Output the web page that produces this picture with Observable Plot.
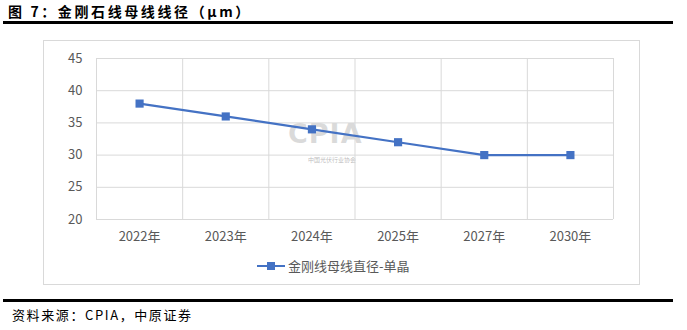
<!DOCTYPE html>
<html><head><meta charset="utf-8">
<script src="https://cdn.jsdelivr.net/npm/d3@7"></script>
<script src="https://cdn.jsdelivr.net/npm/@observablehq/plot@0.6"></script>
<style>
body{margin:0;background:#fff;width:687px;height:330px;position:relative;overflow:hidden;font-family:"Noto Sans CJK SC","Noto Sans",sans-serif;}
#title{position:absolute;left:8px;top:1px;font-size:14px;font-weight:bold;color:#000;letter-spacing:2.6px;}
#rule1{position:absolute;left:3px;top:21px;width:670px;height:3px;background:#000;}
#frame{position:absolute;left:43px;top:40px;width:597px;height:245px;border:1px solid #d9d9d9;box-sizing:border-box;}
#chart{position:absolute;left:43px;top:40px;}
#legend{position:absolute;left:256px;top:256px;font-size:13px;color:#595959;display:flex;align-items:center;}
#wm{position:absolute;left:288px;top:118px;font-size:27px;font-weight:bold;color:rgba(150,150,150,0.35);font-family:"DejaVu Sans",sans-serif;letter-spacing:1px;}
#wm2{position:absolute;left:308px;top:155px;font-size:6px;color:rgba(120,120,120,0.5);}
#rule2{position:absolute;left:3px;top:299px;width:670px;height:3px;background:#000;}
#src{position:absolute;left:12px;top:305px;font-size:13px;color:#000;letter-spacing:1.6px;}
</style></head>
<body>
<div id="title">图 7：金刚石线母线线径（μm）</div>
<div id="rule1"></div>
<div id="frame"></div>
<div id="wm">CPIA</div>
<div id="wm2">中国光伏行业协会</div>
<div id="chart"></div>
<div id="legend"><svg width="30" height="12"><line x1="1" y1="6" x2="29" y2="6" stroke="#4472C4" stroke-width="2"/><rect x="11" y="2" width="8" height="8" fill="#4472C4"/></svg><span style="margin-left:2px">金刚线母线直径-单晶</span></div>
<div id="rule2"></div>
<div id="src">资料来源：CPIA，中原证券</div>
<script>
const categories = ["2022年","2023年","2024年","2025年","2027年","2030年"];
const values = [38, 36, 34, 32, 30, 30];
const yTicks = [20, 25, 30, 35, 40, 45];

const data = categories.map((c, i) => ({i, c, v: values[i]}));
const edges = d3.range(categories.length + 1).map(k => k - 0.5);

const plot = Plot.plot({
  width: 597,
  height: 205,
  marginLeft: 53,
  marginRight: 27,
  marginTop: 18,
  marginBottom: 26,
  style: {fontFamily: "'Noto Sans CJK SC', 'Noto Sans', sans-serif", fontSize: "13px", color: "#595959", background: "transparent"},
  x: {domain: [-0.5, categories.length - 0.5], axis: null},
  y: {domain: [20, 45], axis: null},
  marks: [
    Plot.ruleY(yTicks, {stroke: "#d9d9d9", strokeWidth: 1}),
    Plot.ruleX(edges, {stroke: "#d9d9d9", strokeWidth: 1, y1: 20, y2: 45}),
    Plot.axisY(yTicks, {ticks: yTicks, tickSize: 0, tickPadding: 14, fill: "#595959", fontSize: 13, label: null}),
    Plot.axisX(d3.range(categories.length), {tickSize: 0, tickPadding: 12, tickFormat: i => categories[i], fill: "#595959", fontSize: 13, label: null}),
    Plot.line(data, {x: "i", y: "v", stroke: "#4472C4", strokeWidth: 2.2}),
    Plot.dot(data, {x: "i", y: "v", symbol: "square", r: 4.6, fill: "#4472C4", stroke: "none"})
  ]
});
document.getElementById("chart").appendChild(plot);
</script>
</body></html>
